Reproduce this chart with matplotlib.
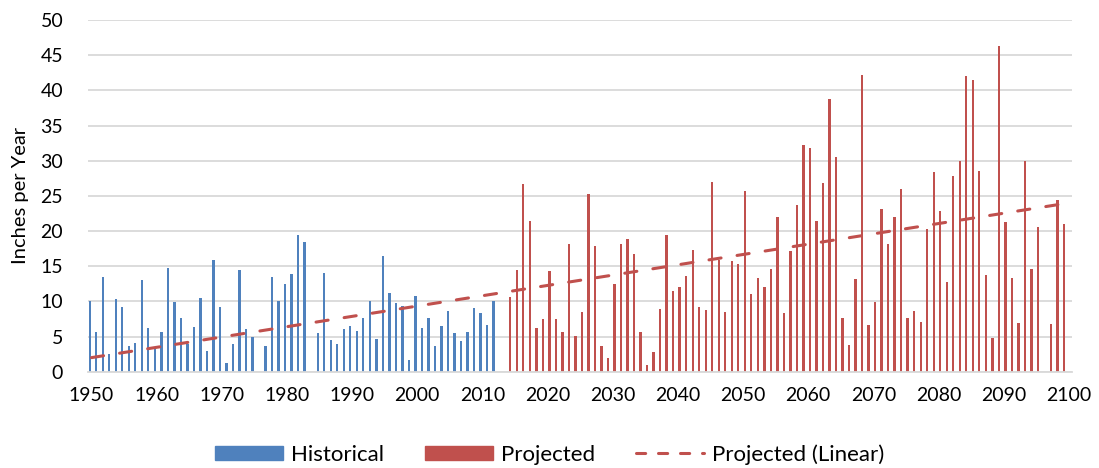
import numpy as np
import matplotlib
matplotlib.use('Agg')
import matplotlib.pyplot as plt
from matplotlib.lines import Line2D
from matplotlib.patches import Patch

plt.rcParams['font.family'] = ['Lato', 'DejaVu Sans']

# 観測値 (1950-2012, 欠測年は除外)
hist_years = [1950, 1951, 1952, 1953, 1954, 1955, 1956, 1957, 1958, 1959,
              1960, 1961, 1962, 1963, 1964, 1965, 1966, 1967, 1968, 1969,
              1970, 1971, 1972, 1973, 1974, 1975, 1977, 1978, 1979,
              1980, 1981, 1982, 1983, 1985, 1986, 1987, 1988, 1989,
              1990, 1991, 1992, 1993, 1994, 1995, 1996, 1997, 1998, 1999,
              2000, 2001, 2002, 2003, 2004, 2005, 2006, 2007, 2008, 2009,
              2010, 2011, 2012]
hist_values = [10.0, 5.7, 13.5, 2.5, 10.3, 9.2, 3.6, 4.1, 13.0, 6.2,
               3.4, 5.7, 14.8, 9.9, 7.6, 4.0, 6.4, 10.5, 2.9, 15.9,
               9.2, 1.2, 4.0, 14.5, 6.1, 4.9, 3.7, 13.4, 10.0,
               12.4, 13.9, 19.5, 18.4, 5.5, 14.0, 4.5, 4.0, 6.0,
               6.5, 5.8, 7.6, 10.0, 4.6, 16.4, 11.2, 9.8, 9.3, 1.6,
               10.7, 6.2, 7.7, 3.6, 6.5, 8.7, 5.5, 4.4, 5.6, 9.1,
               8.3, 6.6, 10.0]

# 予測値 (2014-2099)
proj_years = [2014, 2015, 2016, 2017, 2018, 2019,
              2020, 2021, 2022, 2023, 2024, 2025, 2026, 2027, 2028, 2029,
              2030, 2031, 2032, 2033, 2034, 2035, 2036, 2037, 2038, 2039,
              2040, 2041, 2042, 2043, 2044, 2045, 2046, 2047, 2048, 2049,
              2050, 2051, 2052, 2053, 2054, 2055, 2056, 2057, 2058, 2059,
              2060, 2061, 2062, 2063, 2064, 2065, 2066, 2067, 2068, 2069,
              2070, 2071, 2072, 2073, 2074, 2075, 2076, 2077, 2078, 2079,
              2080, 2081, 2082, 2083, 2084, 2085, 2086, 2087, 2088, 2089,
              2090, 2091, 2092, 2093, 2094, 2095, 2097, 2098, 2099]
proj_values = [10.6, 14.5, 26.7, 21.5, 6.2, 7.5,
               14.3, 7.5, 5.6, 18.2, 5.1, 8.5, 25.2, 17.9, 3.6, 2.0,
               12.5, 18.1, 18.9, 16.8, 5.6, 0.9, 2.8, 8.9, 19.5, 11.5,
               12.0, 13.6, 17.3, 9.2, 8.8, 27.0, 15.9, 8.5, 15.7, 15.3,
               25.7, 11.0, 13.3, 12.1, 14.6, 22.0, 8.4, 17.1, 23.7, 32.3,
               31.8, 21.4, 26.8, 38.8, 30.5, 7.6, 3.8, 13.2, 42.2, 6.6,
               9.9, 23.1, 18.2, 22.0, 26.0, 7.6, 8.6, 7.0, 20.3, 28.4,
               22.8, 12.7, 27.8, 29.9, 42.0, 41.5, 28.5, 13.8, 4.8, 46.3,
               21.3, 13.3, 6.9, 29.9, 14.6, 20.6, 6.8, 24.4, 21.0]

# 線形トレンド (図から読み取った両端の値)
trend_years = [1950, 2100]
trend_values = [2.0, 24.0]

blue = '#4F81BD'
red = '#C0504D'

fig = plt.figure(figsize=(10.99, 4.68), dpi=100)
ax = fig.add_axes([0.0803, 0.2058, 0.8951, 0.7512])

bar_w = 0.36
offset = 0.28
ax.bar(np.array(hist_years) - offset, hist_values, width=bar_w, color=blue, zorder=2)
ax.bar(np.array(proj_years) + offset, proj_values, width=bar_w, color=red, zorder=2)
ax.plot(trend_years, trend_values, color=red, lw=2.2, dashes=(4.0, 5.3),
        dash_capstyle='round', zorder=3)

ax.set_xlim(1949.5, 2100.5)
ax.set_ylim(0, 50)
ax.set_xticks(np.arange(1950, 2101, 10))
ax.set_yticks(np.arange(0, 51, 5))
ax.tick_params(axis='both', length=0, labelsize=14, colors='black')
ax.tick_params(axis='x', pad=11)
ax.tick_params(axis='y', pad=18)
ax.grid(axis='y', color='#D9D9D9', lw=1.3, zorder=0)
for s in ['top', 'right', 'left']:
    ax.spines[s].set_visible(False)
ax.spines['bottom'].set_color('#D9D9D9')
ax.spines['bottom'].set_linewidth(1.3)
ax.set_ylabel('Inches per Year', fontsize=14.5, labelpad=8)

handles = [Patch(color=blue, label='Historical'),
           Patch(color=red, label='Projected'),
           Line2D([0], [0], color=red, lw=2.2, dashes=(3.0, 4.2),
                  dash_capstyle='round', label='Projected (Linear)')]
fig.legend(handles=handles, loc='center', bbox_to_anchor=(0.5, 0.029),
           ncol=3, frameon=False, fontsize=16, handlelength=3.06,
           handleheight=0.57, columnspacing=1.85, handletextpad=0.35,
           borderpad=0)

fig.savefig('out.png', dpi=100)
